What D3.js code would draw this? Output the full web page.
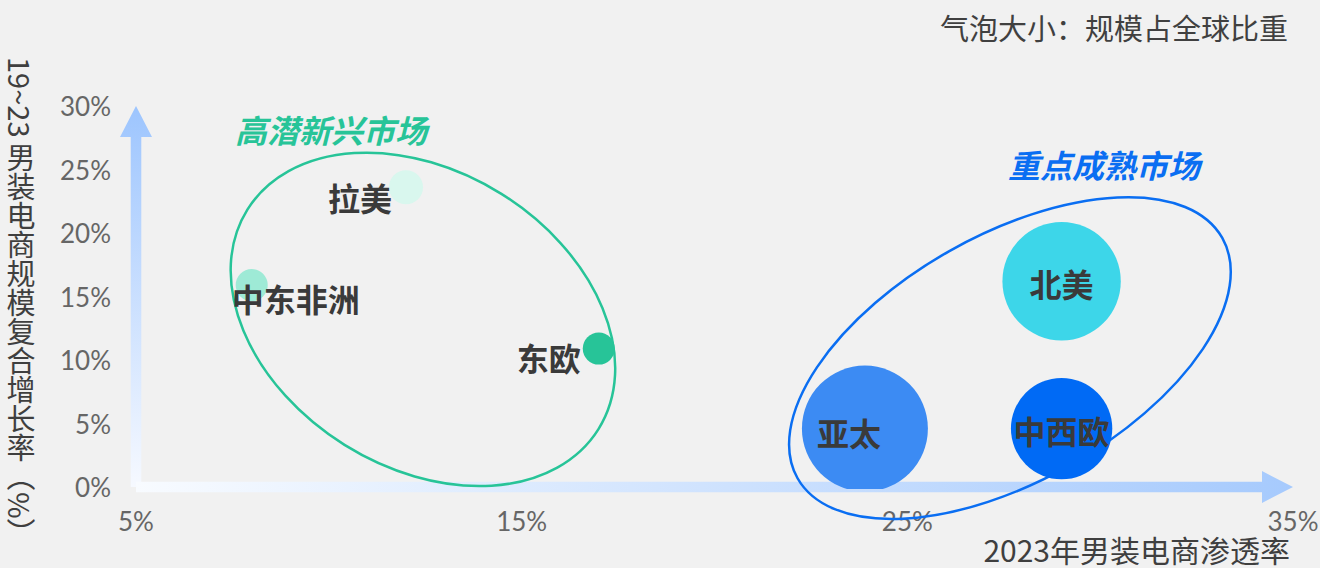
<!DOCTYPE html>
<html>
<head>
<meta charset="utf-8">
<script src="https://cdn.jsdelivr.net/npm/d3@7/dist/d3.min.js"></script>
<style>
  html, body { margin: 0; padding: 0; background: #f1f1f1; }
  svg { display: block; }
  .cjk { font-family: "Noto Sans CJK SC", "Noto Sans", sans-serif; }
  .num { font-family: Lato, "Noto Sans", sans-serif; font-weight: 400; }
</style>
</head>
<body>
<svg id="chart" width="1320" height="568"></svg>
<script>
// Regional men's apparel e-commerce: penetration vs. growth, bubble = share of global scale
const regions     = ["北美", "中西欧", "亚太", "拉美", "中东非洲", "东欧"];
const penetration = [29.0, 29.0, 23.9, 12.0, 8.0, 17.0];   // 2023年男装电商渗透率 (%)
const cagr        = [16.2, 4.6, 4.6, 23.6, 15.9, 10.9];    // 19~23 规模复合增长率 (%)
const globalShare = [30, 22, 34, 2.5, 2.2, 2.2];           // 规模占全球比重 (%)
const bubbleColors = ["#3dd6e9", "#006af5", "#3c8bf3", "#d9f7ee", "#9eead6", "#27c498"];

const xTicks = [5, 15, 25, 35];
const xTickLabels = ["5%", "15%", "25%", "35%"];
const yTicks = [0, 5, 10, 15, 20, 25, 30];
const yTickLabels = ["0%", "5%", "10%", "15%", "20%", "25%", "30%"];

const groupNames   = ["高潜新兴市场", "重点成熟市场"];
const groupCenterX = [12.44, 27.66];
const groupCenterY = [13.2, 10.15];
const groupColors  = ["#27c498", "#0a6ef2"];

const svg = d3.select("#chart");
const W = 1320, H = 568;

const x = d3.scaleLinear().domain([5, 35]).range([136, 1293]);
const y = d3.scaleLinear().domain([0, 30]).range([487, 106]);
const r = d3.scaleSqrt().domain([0, 34]).range([0, 63]);

const defs = svg.append("defs");
const gv = defs.append("linearGradient").attr("id", "gradV")
  .attr("gradientUnits", "userSpaceOnUse")
  .attr("x1", 0).attr("y1", y(0)).attr("x2", 0).attr("y2", y(30));
gv.append("stop").attr("offset", "0%").attr("stop-color", "#f6f9ff");
gv.append("stop").attr("offset", "100%").attr("stop-color", "#9dc5fe");
const gh = defs.append("linearGradient").attr("id", "gradH")
  .attr("gradientUnits", "userSpaceOnUse")
  .attr("x1", x(5)).attr("y1", 0).attr("x2", x(35)).attr("y2", 0);
gh.append("stop").attr("offset", "0%").attr("stop-color", "#f8fbff");
gh.append("stop").attr("offset", "100%").attr("stop-color", "#a6cafd");

defs.append("clipPath").attr("id", "plotClip")
  .append("rect").attr("x", 0).attr("y", 0).attr("width", W).attr("height", y(0) + 2);

// Axis arrows
const axes = svg.append("g");
const x0 = x(5), y0 = y(0), yTop = y(30), xEnd = x(35);
axes.append("path")
  .attr("d", `M${x0 - 5.3},${y0} V${yTop + 31} H${x0 - 16} L${x0},${yTop} L${x0 + 16},${yTop + 31} H${x0 + 5.3} V${y0} Z`)
  .attr("fill", "url(#gradV)");
axes.append("path")
  .attr("d", `M${x0},${y0 - 5.3} H${xEnd - 31} V${y0 - 16} L${xEnd},${y0} L${xEnd - 31},${y0 + 16} V${y0 + 5.3} H${x0} Z`)
  .attr("fill", "url(#gradH)");

// Tick labels
svg.append("g").selectAll("text").data(yTicks).join("text")
  .attr("class", "num")
  .attr("x", 111).attr("y", d => y(d))
  .attr("text-anchor", "end").attr("dominant-baseline", "central")
  .attr("font-size", 26).attr("fill", "#666")
  .text((d, i) => yTickLabels[i]);
svg.append("g").selectAll("text").data(xTicks).join("text")
  .attr("class", "num")
  .attr("x", d => x(d)).attr("y", 521)
  .attr("text-anchor", "middle").attr("dominant-baseline", "central")
  .attr("font-size", 26).attr("fill", "#666")
  .text((d, i) => xTickLabels[i]);

// Axis titles
svg.append("text").attr("class", "cjk")
  .attr("x", 1290).attr("y", 549)
  .attr("text-anchor", "end").attr("dominant-baseline", "central")
  .attr("font-size", 30).attr("fill", "#3f3f3f")
  .text("2023年男装电商渗透率");
svg.append("text").attr("class", "cjk")
  .attr("x", 21).attr("y", 57)
  .style("writing-mode", "vertical-rl")
  .attr("font-size", 29).attr("fill", "#3f3f3f")
  .text("19~23 男装电商规模复合增长率（%）");

// Bubble-size note
svg.append("text").attr("class", "cjk")
  .attr("x", 1288).attr("y", 27)
  .attr("text-anchor", "end").attr("dominant-baseline", "central")
  .attr("font-size", 29).attr("fill", "#404040")
  .text("气泡大小：规模占全球比重");

// Market group outlines
const groupShape = [
  { rx: 207, ry: 148, rot: 32 },
  { rx: 244, ry: 123, rot: -29.5 }
];
const groups = svg.append("g");
groupNames.forEach((name, i) => {
  const cx = x(groupCenterX[i]), cy = y(groupCenterY[i]);
  groups.append("ellipse")
    .attr("cx", 0).attr("cy", 0)
    .attr("rx", groupShape[i].rx).attr("ry", groupShape[i].ry)
    .attr("transform", `translate(${cx},${cy}) rotate(${groupShape[i].rot})`)
    .attr("fill", "none").attr("stroke", groupColors[i]).attr("stroke-width", 2.5);
});
// group titles
svg.append("text").attr("class", "cjk")
  .attr("x", 235).attr("y", 129)
  .attr("dominant-baseline", "central")
  .attr("font-size", 32).attr("font-weight", 700).attr("font-style", "italic")
  .attr("fill", groupColors[0]).text(groupNames[0]);
svg.append("text").attr("class", "cjk")
  .attr("x", 1008).attr("y", 164)
  .attr("dominant-baseline", "central")
  .attr("font-size", 32).attr("font-weight", 700).attr("font-style", "italic")
  .attr("fill", groupColors[1]).text(groupNames[1]);

// Bubbles
const idx = d3.range(regions.length);
svg.append("g").attr("clip-path", "url(#plotClip)")
  .selectAll("circle").data(idx).join("circle")
  .attr("cx", i => x(penetration[i]))
  .attr("cy", i => y(cagr[i]))
  .attr("r", i => r(globalShare[i]))
  .attr("fill", i => bubbleColors[i]);

// Region labels: large markets labelled inside, small ones beside the bubble
const labelPlace = [
  { anchor: "middle", dx: 0, dy: 2 },
  { anchor: "middle", dx: 0, dy: 1 },
  { anchor: "middle", dx: -16, dy: 3 },
  { anchor: "end", dx: -14, dy: 10 },
  { anchor: "start", dx: -20, dy: 13 },
  { anchor: "end", dx: -18, dy: 8 }
];
svg.append("g").selectAll("text").data(idx).join("text")
  .attr("class", "cjk")
  .attr("x", i => x(penetration[i]) + labelPlace[i].dx)
  .attr("y", i => y(cagr[i]) + labelPlace[i].dy)
  .attr("text-anchor", i => labelPlace[i].anchor)
  .attr("dominant-baseline", "central")
  .attr("font-size", 32).attr("font-weight", 700).attr("fill", "#3a3a3a")
  .text(i => regions[i]);
</script>
</body>
</html>
